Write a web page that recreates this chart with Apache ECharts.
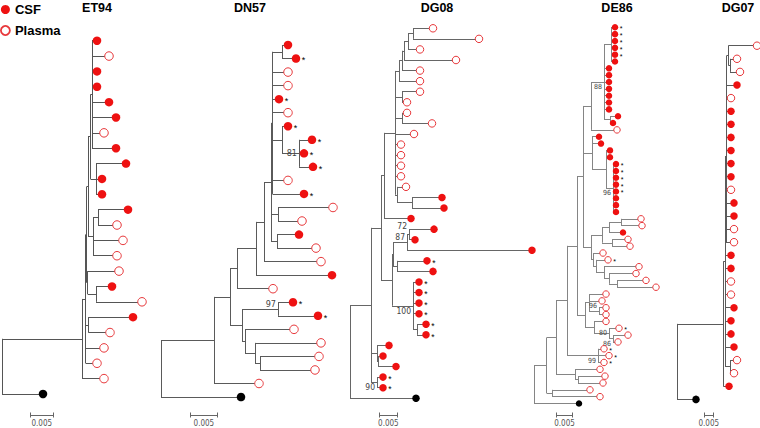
<!DOCTYPE html>
<html><head><meta charset="utf-8">
<script src="https://cdn.jsdelivr.net/npm/echarts@6/dist/echarts.min.js"></script>
<style>html,body{margin:0;padding:0;background:#fff}#c{width:760px;height:428px}</style>
</head><body><div id="c"></div>
<script>
// ---------------- DATA ----------------
// Trees in Newick-like notation. Number after ':' = node distance from the tree root
// (tree units; scaleBarUnits gives how many units equal 0.005 substitutions/site).
// Leaf codes: c = CSF, p = Plasma, o = outgroup; '*' = starred sequence.
// Internal labels = bootstrap values ('^' label above node, '^^' further above, '_' below node).
const panelTitles = ['ET94', 'DN57', 'DG08', 'DE86', 'DG07'];
const legendNames = ['CSF', 'Plasma'];
const scaleBarText = '0.005';
const scaleBarUnits = [23, 27.7, 17.3, 15.6, 9];

const treeET94 = "(((((((c:95,p:107,c:95,c:95,c:107,c:114,p:102,c:114):90,(c:124,c:100,c:100):94):88.5,((c:126,p:115):96,p:121,p:115):91):86,(p:117,(c:110,p:140):94):85.7):84.7,(c:131,p:108):86.3,p:102,p:95):83.7,p:102):80,o:41):0";
const treeDN57 = "(((((((((c:127,c*:135):121,p:127,p:127,c*:118,p:127,(c*:127,(c*:151,c*:143,c*:152)81:138):121,p:127,c*:143):111.5,(p:172,p:141):117,(c:138,p:155):116):110,p:160):103,c:171):95,p:112):76,((c*:132,c*:157)97^:117,(p:133,(p:160,(p:158,p:154):99):94):84):81):69,p:98):53,o:80):0";
const treeDG08 = "((((((((((p:83,p:129):63,p:70):58,p:106):54,p:70):52,p:70):49,(p:70,p:57):52,(p:57,p:82):52,p:64,p:51,p:51,p:51,p:51,(p:56,(c:92,c:94):62):47):45,c:61):34,((((c:84,c:65)72^^:59,c:182)87^:57,(c*:77,c:83):47):43,(c*:69,c*:69,c*:69,c*:69,(c*:76,c*:76):67)100_:63):42):31,(c:39,(c:33,c:46):28):27,(c*:33,c*:33)90_:27):21,o:66):0";
const treeDE86 = "(((((((((c*:81,c*:81,c*:81,c*:81,c*:81,c:81):77,c:75,c:75,c:75,c:75,c:75,c:75,c:75,(c:84,c:79):76)88_:70,p:83):57,(c:65,c:67,(c:76,c:76,(c*:82,c*:82,c*:82,c*:82,c*:82,c:82,c:82,c:82)96_:79):72):58,((((p:107,p:108):87,c:89):75,(p:94,p:96):78):68,(p:69,(p*:74,(p:105,(p:102,(p:112,p:122):83):75):70):62):59):57):49,((p:72,p:68,(p:72,p:72)96^:65):55,(p:72,(p*:85,(p:94,p:84)86_:79)80:75):60):51):43,(p*:70,p*:75,p*:70)99_:64):33,(p:66,(p:71,p:69):44):41):22,(p:56,p:66):18):12.7,o:45):0";
const treeDG07 = "((((((p:80,(p:60,p:63):53):51.3,c:60):49.7,p:54,c:54,c:54,c:54,c:54,c:54,c:54,p:54,c:57,c:57,p:57,p:57):49,c:54,c:54,p:54,p:54,c:57,c:54,c:54,c:57,(p:60,p:57):53):48,c:52):46.3,o:19):0";
const treeStrings = [treeET94, treeDN57, treeDG08, treeDE86, treeDG07];

// ---------------- LAYOUT / STYLE ----------------
const panelLayout = [
  {rootX: 2,   firstY: 40.7, rowH: 15.36, titleX: 97,  barX: 30.3,  line: '#555', sym: 8.5, star: 9, boot: 9},
  {rootX: 161, firstY: 45,   rowH: 13.54, titleX: 250, barX: 190,   line: '#5a5a5a', sym: 8.5, star: 9, boot: 9},
  {rootX: 350, firstY: 28.3, rowH: 10.57, titleX: 437, barX: 379.7, line: '#666', sym: 7.5, star: 8.5, boot: 8.5},
  {rootX: 534, firstY: 27.3, rowH: 6.84,  titleX: 617, barX: 556.7, line: '#858585', sym: 6.5, star: 7, boot: 7},
  {rootX: 677, firstY: 45.7, rowH: 13.1,  titleX: 738, barX: 704.3, line: '#5a5a5a', sym: 7.5, star: 9, boot: 9}
];
const barY = 415, barLabelY = 423;
const RED = '#ee1111', PRED = '#e8383b';
const FONT = "'Liberation Sans', Arial, sans-serif";
const NARROW = "'Liberation Sans Narrow','DejaVu Sans Condensed','Liberation Sans',Arial,sans-serif";

function parse(s) {
  let i = 0;
  function node() {
    const n = {children: [], name: '', depth: 0};
    if (s[i] === '(') {
      i++;
      n.children.push(node());
      while (s[i] === ',') { i++; n.children.push(node()); }
      i++;
    }
    while (i < s.length && s[i] !== ':' && s[i] !== ',' && s[i] !== ')') n.name += s[i++];
    if (s[i] === ':') {
      i++; let num = '';
      while (i < s.length && /[0-9.]/.test(s[i])) num += s[i++];
      n.depth = parseFloat(num);
    }
    return n;
  }
  return node();
}

const segs = [], csf = [], plasma = [], outg = [], boots = [], barSegs = [], barLabels = [];

treeStrings.forEach((str, k) => {
  const L = panelLayout[k];
  const root = parse(str);
  let idx = 0;
  (function place(n) {
    n.x = L.rootX + n.depth;
    if (!n.children.length) { n.y = L.firstY + idx * L.rowH; idx++; }
    else { n.children.forEach(place); n.y = (n.children[0].y + n.children[n.children.length - 1].y) / 2; }
  })(root);
  (function emit(n) {
    if (n.children.length) {
      const a = n.children[0], b = n.children[n.children.length - 1];
      segs.push({coords: [[n.x, a.y], [n.x, b.y]], lineStyle: {color: L.line}});
      n.children.forEach(c => { segs.push({coords: [[n.x, c.y], [c.x, c.y]], lineStyle: {color: L.line}}); emit(c); });
      const m = n.name.match(/^(\d+)([\^_]*)$/);
      if (m) boots.push({value: [n.x, n.y], text: m[1], pos: m[2], size: L.boot});
    } else {
      const t = n.name[0], star = n.name.indexOf('*') >= 0;
      const item = {value: [n.x, n.y], symbolSize: L.sym};
      if (star) item.label = {show: true, formatter: '*', position: 'right', distance: 1.5,
        color: '#000', fontSize: L.star, lineHeight: L.star, fontFamily: FONT, offset: [0, L.star * 0.2]};
      (t === 'c' ? csf : t === 'p' ? plasma : outg).push(item);
    }
  })(root);
  const x0 = L.barX, x1 = L.barX + scaleBarUnits[k];
  barSegs.push({coords: [[x0, barY], [x1, barY]]});
  barSegs.push({coords: [[x0, barY - 2.5], [x0, barY + 2.5]]});
  barSegs.push({coords: [[x1, barY - 2.5], [x1, barY + 2.5]]});
  barLabels.push({value: [(x0 + x1) / 2, barLabelY], text: scaleBarText});
});

const bootShift = {'': 0, '^': -5, '^^': -8, '_': 5};

function textSeries(name, data, styler) {
  return {
    type: 'custom', name, coordinateSystem: 'cartesian2d', silent: true,
    data: data.map(d => d.value),
    renderItem: (params, api) => {
      const d = data[params.dataIndex];
      const p = api.coord([api.value(0), api.value(1)]);
      return styler(d, p);
    }
  };
}

const chart = echarts.init(document.getElementById('c'), null, {renderer: 'svg'});
chart.setOption({
  animation: false,
  backgroundColor: '#fff',
  title: panelTitles.map((t, k) => ({
    text: t, left: panelLayout[k].titleX, top: 1, textAlign: 'center', padding: 0,
    textStyle: {fontSize: 12.5, fontWeight: 'bold', color: '#000', fontFamily: FONT}
  })),
  legend: {
    data: [{name: legendNames[0]}, {name: legendNames[1], itemStyle: {borderWidth: 1.8}}],
    orient: 'vertical', left: 0, top: 3, padding: 0, itemWidth: 9, itemHeight: 9, itemGap: 8,
    selectedMode: false,
    textStyle: {fontSize: 13, fontWeight: 'bold', color: '#000', fontFamily: FONT}
  },
  grid: {left: 0, right: 0, top: 0, bottom: 0},
  xAxis: {type: 'value', min: 0, max: 760, show: false},
  yAxis: {type: 'value', min: 0, max: 428, inverse: true, show: false},
  series: [
    {type: 'lines', name: 'branches', coordinateSystem: 'cartesian2d', silent: true,
     lineStyle: {width: 1, opacity: 1}, data: segs},
    {type: 'lines', name: 'scale', coordinateSystem: 'cartesian2d', silent: true,
     lineStyle: {width: 1, opacity: 1, color: '#666'}, data: barSegs},
    {type: 'scatter', name: 'CSF', symbol: 'circle', silent: true,
     itemStyle: {color: RED, opacity: 1}, data: csf},
    {type: 'scatter', name: 'Plasma', symbol: 'circle', silent: true,
     itemStyle: {color: '#fff', borderColor: PRED, borderWidth: 1, opacity: 1}, data: plasma},
    {type: 'scatter', name: 'Outgroup', symbol: 'circle', silent: true,
     itemStyle: {color: '#000', opacity: 1}, data: outg},
    textSeries('bootstrap', boots, (d, p) => ({
      type: 'text', x: p[0] - 2, y: p[1] + (bootShift[d.pos] || 0),
      style: {text: d.text, align: 'right', verticalAlign: 'middle', fill: '#444', font: d.size + 'px ' + NARROW}
    })),
    textSeries('scalebar', barLabels, (d, p) => ({
      type: 'text', x: p[0], y: p[1],
      style: {text: d.text, align: 'center', verticalAlign: 'middle', fill: '#555', font: '8px ' + NARROW}
    }))
  ]
});
</script>
</body></html>
